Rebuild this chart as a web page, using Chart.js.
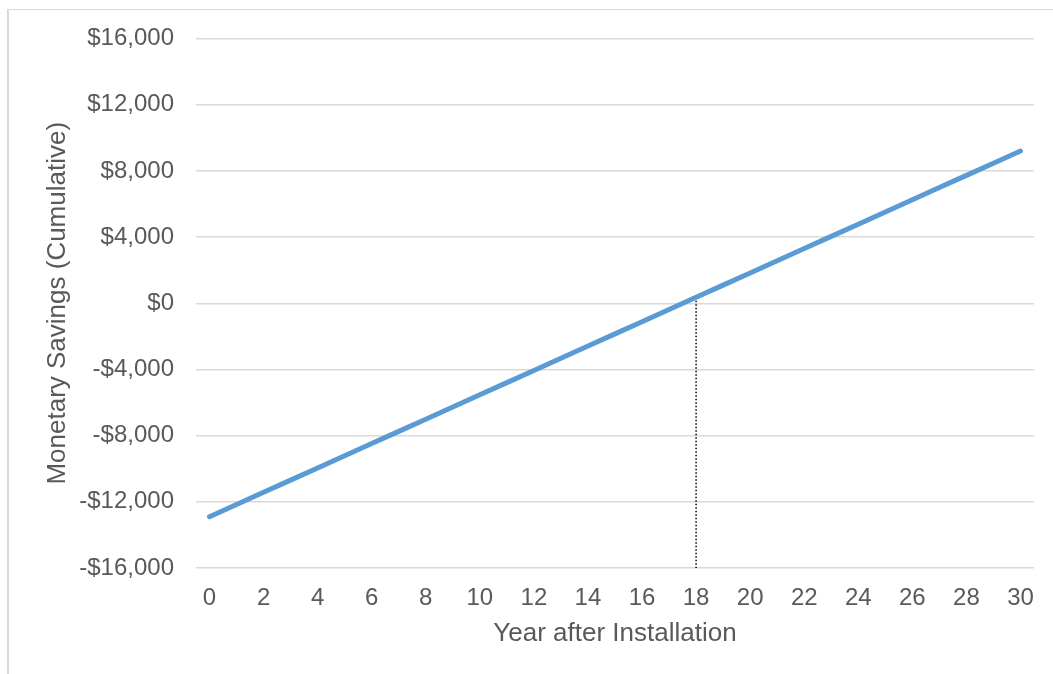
<!DOCTYPE html>
<html>
<head>
<meta charset="utf-8">
<script src="https://cdn.jsdelivr.net/npm/chart.js@4/dist/chart.umd.min.js"></script>
<style>
  html, body { margin: 0; padding: 0; background: #ffffff; }
  #wrap { position: relative; width: 1053px; height: 674px; }
</style>
</head>
<body>
<div id="wrap"><canvas id="chart" width="1053" height="674"></canvas></div>
<script>
// Years after installation
const years = [0, 1, 2, 3, 4, 5, 6, 7, 8, 9, 10, 11, 12, 13, 14, 15,
               16, 17, 18, 19, 20, 21, 22, 23, 24, 25, 26, 27, 28, 29, 30];
// Cumulative monetary savings ($) for each year
const savings = [-12900, -12163, -11427, -10690, -9953, -9217, -8480, -7743,
                 -7007, -6270, -5533, -4797, -4060, -3323, -2587, -1850,
                 -1113, -377, 360, 1097, 1833, 2570, 3307, 4043,
                 4780, 5517, 6253, 6990, 7727, 8463, 9200];
// Year at which the dotted marker is drawn
const breakEvenYear = 18;
// Axis tick values
const xTickValues = [0, 2, 4, 6, 8, 10, 12, 14, 16, 18, 20, 22, 24, 26, 28, 30];
const yTickValues = [-16000, -12000, -8000, -4000, 0, 4000, 8000, 12000, 16000];

const FONT = "'Liberation Sans', Arial, sans-serif";
const TEXT = '#595959';
const GRID = '#d9d9d9';

const savingsPoints = years.map((y, i) => ({ x: y, y: savings[i] }));
const breakEvenPoints = [
  { x: breakEvenYear, y: savings[years.indexOf(breakEvenYear)] },
  { x: breakEvenYear, y: yTickValues[0] }
];

function money(v) {
  const s = '$' + Math.abs(v).toLocaleString('en-US');
  return v < 0 ? '-' + s : s;
}

// Thin frame around the chart
const framePlugin = {
  id: 'frame',
  beforeDraw(chart) {
    const ctx = chart.ctx;
    ctx.save();
    ctx.fillStyle = '#d9d9d9';
    ctx.fillRect(7, 9, 2, 665);
    ctx.fillRect(7, 9, 1046, 1);
    ctx.restore();
  }
};

new Chart(document.getElementById('chart'), {
  type: 'line',
  data: {
    datasets: [
      {
        label: 'Cumulative savings',
        data: savingsPoints,
        borderColor: '#5b9bd5',
        backgroundColor: '#5b9bd5',
        borderWidth: 5,
        borderCapStyle: 'round',
        borderJoinStyle: 'round',
        pointRadius: 0,
        tension: 0,
        order: 1
      },
      {
        label: 'Break-even',
        data: breakEvenPoints,
        borderColor: '#000000',
        borderWidth: 1.5,
        borderDash: [1.5, 2],
        pointRadius: 0,
        tension: 0,
        order: 2
      }
    ]
  },
  options: {
    responsive: false,
    animation: false,
    events: [],
    layout: { padding: { left: 0, right: 19, top: 38.5, bottom: 0 } },
    plugins: {
      legend: { display: false },
      tooltip: { enabled: false },
      title: { display: false }
    },
    scales: {
      x: {
        type: 'linear',
        min: -0.5,
        max: 30.5,
        afterBuildTicks(scale) {
          scale.ticks = xTickValues.map(v => ({ value: v }));
        },
        afterFit(scale) { scale.height = 106; },
        grid: { display: false, drawTicks: false },
        border: { display: false },
        ticks: {
          color: TEXT,
          font: { family: FONT, size: 24 },
          padding: 16,
          maxRotation: 0,
          autoSkip: false
        },
        title: {
          display: true,
          text: 'Year after Installation',
          color: TEXT,
          font: { family: FONT, size: 26 },
          padding: { top: 0, bottom: 25 }
        }
      },
      y: {
        type: 'linear',
        min: -16000,
        max: 16000,
        afterBuildTicks(scale) {
          scale.ticks = yTickValues.map(v => ({ value: v }));
        },
        afterFit(scale) { scale.width = 196; },
        grid: { color: GRID, lineWidth: 1.5, drawTicks: false },
        border: { display: false },
        ticks: {
          color: TEXT,
          font: { family: FONT, size: 24 },
          padding: 22,
          callback: v => money(v)
        },
        title: {
          display: true,
          text: 'Monetary Savings (Cumulative)',
          color: TEXT,
          font: { family: FONT, size: 26 },
          padding: { top: 42, bottom: 0 }
        }
      }
    }
  },
  plugins: [framePlugin]
});
</script>
</body>
</html>
